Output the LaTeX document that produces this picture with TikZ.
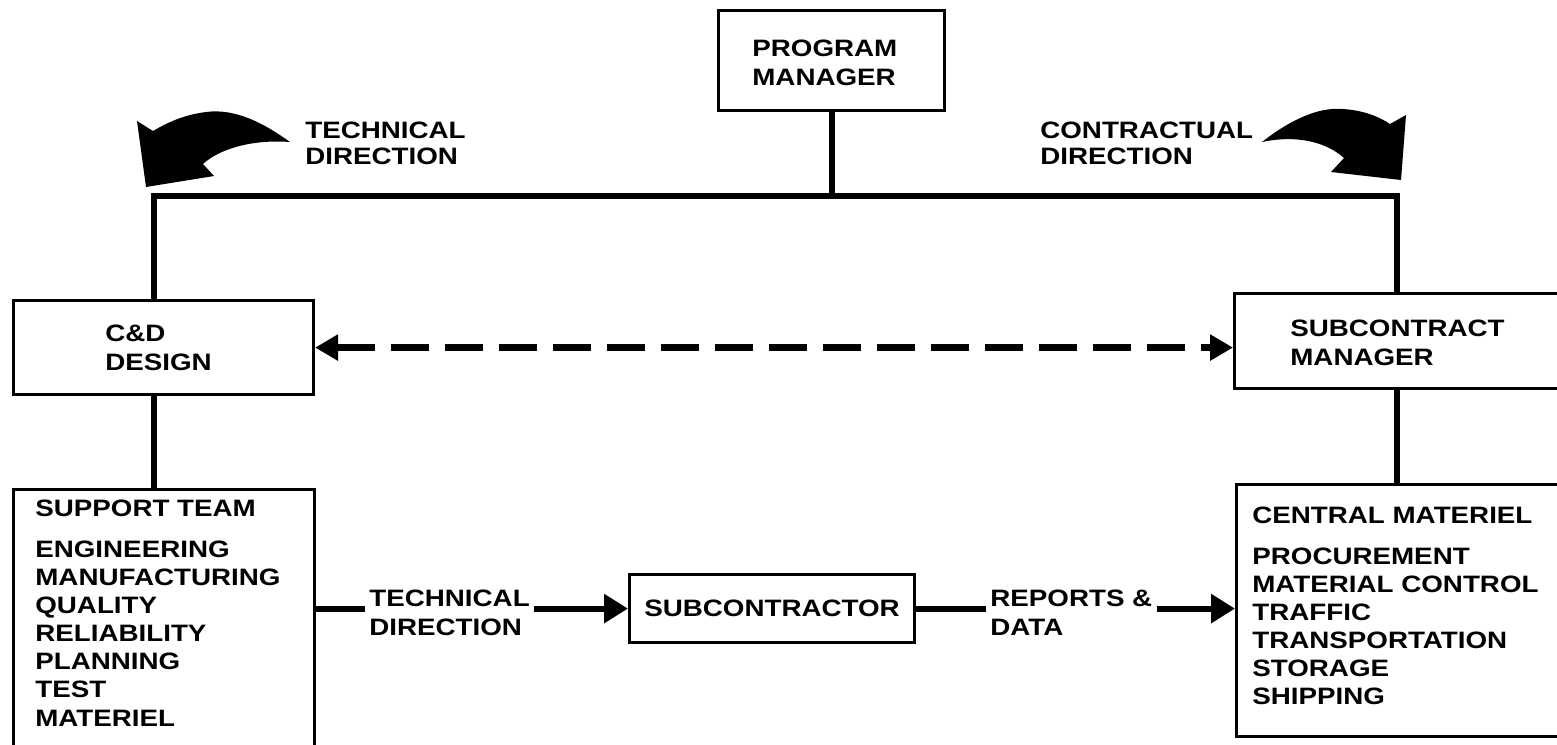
\documentclass[tikz,border=0pt]{standalone}
\usepackage{fontspec}
\newfontfamily\orgfont{Liberation Sans}[FakeStretch=1.17]
\usetikzlibrary{arrows.meta,positioning}
\tikzset{
  box/.style={draw,line width=1.8pt,inner sep=0pt,anchor=north west,
    font=\orgfont\bfseries\fontsize{13.5}{16}\selectfont},
  lbl/.style={font=\orgfont\bfseries\fontsize{13.5}{16}\selectfont,
    inner sep=0pt,anchor=north west,align=left},
  conn/.style={line width=3.4pt},
  tip/.style={-{Triangle[length=0.48cm,width=0.56cm]}},
  dashlink/.style={line width=4pt,dash pattern=on 0.76cm off 0.32cm,
    {Triangle[length=0.46cm,width=0.5cm]}-{Triangle[length=0.46cm,width=0.5cm]}}
}
\begin{document}
\begin{tikzpicture}[x=0.02cm,y=-0.02cm]
\useasboundingbox (0,0) rectangle (1557,744);
% boxes
\node[box,minimum width=4.52cm,minimum height=2cm] (pm) at (717,9) {};
\node[box,minimum width=6cm,minimum height=1.88cm] (cd) at (12,299) {};
\node[box,minimum width=6.68cm,minimum height=1.9cm] (sm) at (1233,292) {};
\node[box,minimum width=6.02cm,minimum height=5.64cm] (st) at (12,488) {};
\node[box,minimum width=6.64cm,minimum height=5.04cm] (cm) at (1235,483) {};
\node[box,minimum width=5.7cm,minimum height=1.36cm] (sub) at (628,573) {SUBCONTRACTOR};
% box texts
\node[lbl] (pmtxt) at (752,40) {PROGRAM\\MANAGER};
\node[lbl] (cdtxt) at (105,325) {C\&D\\DESIGN};
\node[lbl] (smtxt) at (1290,320) {SUBCONTRACT\\MANAGER};
\node[lbl] (sttxt) at (35,500) {SUPPORT TEAM\\[7pt]ENGINEERING\\MANUFACTURING\\QUALITY\\RELIABILITY\\PLANNING\\TEST\\MATERIEL};
\node[lbl] (cmtxt) at (1252,507) {CENTRAL MATERIEL\\[7pt]PROCUREMENT\\MATERIAL CONTROL\\TRAFFIC\\TRANSPORTATION\\STORAGE\\SHIPPING};
% direction labels
\node[lbl] (tdtop) at (305,122) {TECHNICAL\\[-1.5pt]DIRECTION};
\node[lbl] (cdtop) at (1040,122) {CONTRACTUAL\\[-1.5pt]DIRECTION};
\node[lbl,outer xsep=2.5pt] (tdlow) at (365,590) {TECHNICAL\\DIRECTION};
\node[lbl,outer xsep=2.5pt] (rpt) at (986,590) {REPORTS \&\\DATA};
% curved arrows
\fill (290,142) .. controls (265,124) and (236,108) .. (206,112)
  .. controls (182,115) and (165,124) .. (153,131) -- (137,121) -- (146,187)
  -- (214,176) -- (203,164) .. controls (218,150) and (250,139) .. (290,142) -- cycle;
\fill (1262,142) .. controls (1290,120) and (1318,107) .. (1342,109)
  .. controls (1362,110) and (1378,116) .. (1390,124) -- (1406,115) -- (1401,180)
  -- (1331,172) -- (1344,158) .. controls (1325,141) and (1295,135) .. (1262,142) -- cycle;
% tree lines
\coordinate (barL) at (154,196);
\coordinate (barR) at (1397,196);
\draw[conn] (barL |- cd.north) -- (barL) -- (barR) -- (barR |- sm.north);
\draw[conn] (pm.south) -- (pm.south |- barL);
\draw[conn] (barL |- cd.south) -- (barL |- st.north);
\draw[conn] (barR |- sm.south) -- (barR |- cm.north);
\draw[dashlink] (cd.east) -- (sm.west |- cd.east);
% flow to and from the subcontractor
\draw[conn] (st.east |- sub.west) -- (tdlow.west |- sub.west);
\draw[conn,tip] (tdlow.east |- sub.west) -- (sub.west);
\draw[conn] (sub.east) -- (rpt.west |- sub.east);
\draw[conn,tip] (rpt.east |- sub.east) -- (cm.west |- sub.east);
\end{tikzpicture}
\end{document}
